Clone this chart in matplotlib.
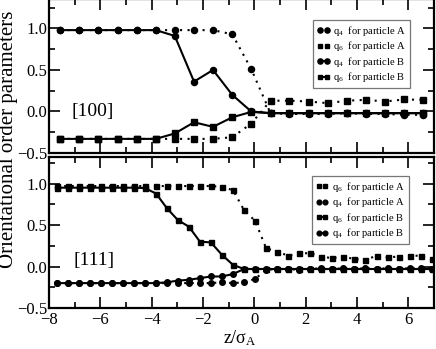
import matplotlib
matplotlib.use("Agg")
import matplotlib.pyplot as plt
import numpy as np
from matplotlib.ticker import MultipleLocator

plt.rcParams['font.family'] = ['Liberation Serif', 'DejaVu Serif']
plt.rcParams['mathtext.fontset'] = 'custom'
plt.rcParams['mathtext.rm'] = 'Liberation Serif'
plt.rcParams['mathtext.it'] = 'Liberation Serif:italic'
plt.rcParams['mathtext.bf'] = 'Liberation Serif:bold'

# ---------------- data: [100] panel ----------------
z100 = [-7.57, -6.82, -6.08, -5.33, -4.59, -3.84, -3.10, -2.35, -1.61, -0.86,
        -0.12, 0.63, 1.37, 2.12, 2.86, 3.61, 4.35, 5.10, 5.84, 6.59]
q4A_100 = [0.98, 0.98, 0.98, 0.98, 0.98, 0.98, 0.98, 0.98, 0.98, 0.93,
           0.51, -0.02, -0.03, -0.03, -0.03, -0.02, -0.03, -0.03, -0.04, -0.04]
q6A_100 = [-0.33, -0.33, -0.33, -0.33, -0.33, -0.33, -0.33, -0.33, -0.33, -0.31,
           -0.145, 0.13, 0.13, 0.12, 0.10, 0.13, 0.14, 0.12, 0.145, 0.14]
q4B_100 = [0.98, 0.98, 0.98, 0.98, 0.98, 0.98, 0.91, 0.36, 0.50, 0.20,
           0.00, -0.02, -0.02, -0.02, -0.02, -0.02, -0.02, -0.02, -0.02, -0.02]
q6B_100 = [-0.33, -0.33, -0.33, -0.33, -0.33, -0.33, -0.265, -0.13, -0.185, -0.07,
           -0.005, -0.02, -0.02, -0.02, -0.02, -0.02, -0.02, -0.02, -0.02, -0.02]

# ---------------- data: [111] panel ----------------
z111 = [-7.70, -7.27, -6.84, -6.41, -5.98, -5.55, -5.12, -4.69, -4.26, -3.83,
        -3.40, -2.98, -2.55, -2.12, -1.69, -1.26, -0.83, -0.40, 0.03, 0.46,
        0.89, 1.32, 1.75, 2.18, 2.61, 3.04, 3.47, 3.90, 4.33, 4.76,
        5.19, 5.62, 6.05, 6.48, 6.91]
q6A_111 = [0.97, 0.97, 0.97, 0.97, 0.97, 0.97, 0.97, 0.97, 0.97, 0.97,
           0.97, 0.97, 0.97, 0.97, 0.97, 0.96, 0.92, 0.68, 0.55, 0.22,
           0.18, 0.13, 0.16, 0.16, 0.12, 0.10, 0.12, 0.09, 0.08, 0.13,
           0.11, 0.12, 0.13, 0.13, 0.09]
q4A_111 = [-0.20, -0.20, -0.20, -0.20, -0.20, -0.20, -0.20, -0.20, -0.20, -0.20,
           -0.20, -0.20, -0.20, -0.20, -0.20, -0.19, -0.20, -0.19, -0.15, -0.04,
           -0.03, -0.03, -0.04, -0.03, -0.02, -0.03, -0.02, -0.03, -0.02, -0.03,
           -0.02, -0.03, -0.02, -0.02, -0.03]
q6B_111 = [0.95, 0.95, 0.95, 0.95, 0.95, 0.95, 0.95, 0.95, 0.945, 0.88,
           0.70, 0.56, 0.48, 0.30, 0.29, 0.14, 0.02, -0.03, -0.03, -0.03,
           -0.03, -0.03, -0.03, -0.03, -0.03, -0.03, -0.03, -0.03, -0.03, -0.03,
           -0.03, -0.03, -0.03, -0.03, -0.03]
q4B_111 = [-0.20, -0.20, -0.20, -0.20, -0.20, -0.20, -0.20, -0.20, -0.20, -0.20,
           -0.19, -0.17, -0.16, -0.14, -0.12, -0.12, -0.09, -0.03, -0.03, -0.03,
           -0.03, -0.03, -0.03, -0.03, -0.03, -0.03, -0.03, -0.03, -0.03, -0.03,
           -0.03, -0.03, -0.03, -0.03, -0.03]

lab_q4A = "q$_4$  for particle A"
lab_q6A = "q$_6$  for particle A"
lab_q4B = "q$_4$  for particle B"
lab_q6B = "q$_6$  for particle B"

W, H = 436, 349
fig = plt.figure(figsize=(W / 100, H / 100), dpi=100)

L, R = 49, 434
ax1 = fig.add_axes([L / W, 1 - 153 / H, (R - L) / W, 153.6 / H])
ax2 = fig.add_axes([L / W, 1 - 308 / H, (R - L) / W, 151 / H])

dot = (0, (1, 2.6))
lw = 1.5

def style(ax, ylim):
    ax.set_xlim(-8, 7)
    ax.set_ylim(*ylim)
    ax.xaxis.set_major_locator(MultipleLocator(2))
    ax.xaxis.set_minor_locator(MultipleLocator(1))
    ax.yaxis.set_major_locator(MultipleLocator(0.5))
    ax.yaxis.set_minor_locator(MultipleLocator(0.25))
    ax.tick_params(which='both', direction='in', top=True, right=True, width=1.2)
    ax.tick_params(which='major', length=8, labelsize=12, pad=3)
    ax.tick_params(which='minor', length=4)
    ax.tick_params(axis='y', pad=1)
    for s in ax.spines.values():
        s.set_linewidth(1.6)
    ax.set_yticks([-0.5, 0.0, 0.5, 1.0])
    ax.set_yticklabels(["\u22120.5", "0.0", "0.5", "1.0"])

style(ax1, (-0.5, 1.35))
style(ax2, (-0.5, 1.32))
ax1.tick_params(labelbottom=False)
ax2.set_xticks([-8, -6, -4, -2, 0, 2, 4, 6])
ax2.set_xticklabels(["\u22128", "\u22126", "\u22124", "\u22122", "0", "2", "4", "6"])

ms_c, ms_s = 4.4, 3.8
k = 'black'
# top
ax1.plot(z100, q4A_100, linestyle=dot, lw=lw, color=k, marker='o', ms=ms_c, label=lab_q4A)
ax1.plot(z100, q6A_100, linestyle=dot, lw=lw, color=k, marker='s', ms=ms_s, label=lab_q6A)
ax1.plot(z100, q4B_100, linestyle='-', lw=lw, color=k, marker='o', ms=ms_c, label=lab_q4B)
ax1.plot(z100, q6B_100, linestyle='-', lw=lw, color=k, marker='s', ms=ms_s, label=lab_q6B)
# bottom
ms_c2, ms_s2 = 4.0, 3.6
ax2.plot(z111, q6A_111, linestyle=dot, lw=lw, color=k, marker='s', ms=ms_s2, label=lab_q6A)
ax2.plot(z111, q4A_111, linestyle=dot, lw=lw, color=k, marker='o', ms=ms_c2, label=lab_q4A)
ax2.plot(z111, q6B_111, linestyle='-', lw=lw, color=k, marker='s', ms=ms_s2, label=lab_q6B)
ax2.plot(z111, q4B_111, linestyle='-', lw=lw, color=k, marker='o', ms=ms_c2, label=lab_q4B)

leg_kw = dict(loc='upper right', fontsize=7.6, frameon=True, fancybox=False,
              handlelength=1.2, handletextpad=0.35, borderpad=0.35,
              labelspacing=0.15, borderaxespad=0, numpoints=2, markerscale=0.85)
lg1 = ax1.legend(bbox_to_anchor=(0.938, 0.866), **leg_kw)
lg2 = ax2.legend(bbox_to_anchor=(0.935, 0.874), **leg_kw)
for lg in (lg1, lg2):
    lg.get_frame().set_edgecolor('#555555')
    lg.get_frame().set_linewidth(0.9)

ax1.text(-6.3, 0.0, "[100]", fontsize=14, ha='center', va='center')
ax2.text(-6.25, 0.07, "[111]", fontsize=14, ha='center', va='center')

fig.text(9 / W, 1 - 139 / H, "Orientational order parameters", rotation=90,
         fontsize=15, ha='center', va='center')
fig.text(240 / W, 1 - 338 / H, "z/\u03c3$_{\\mathrm{A}}$", fontsize=13,
         ha='center', va='center')

fig.savefig("out.png", dpi=100)
